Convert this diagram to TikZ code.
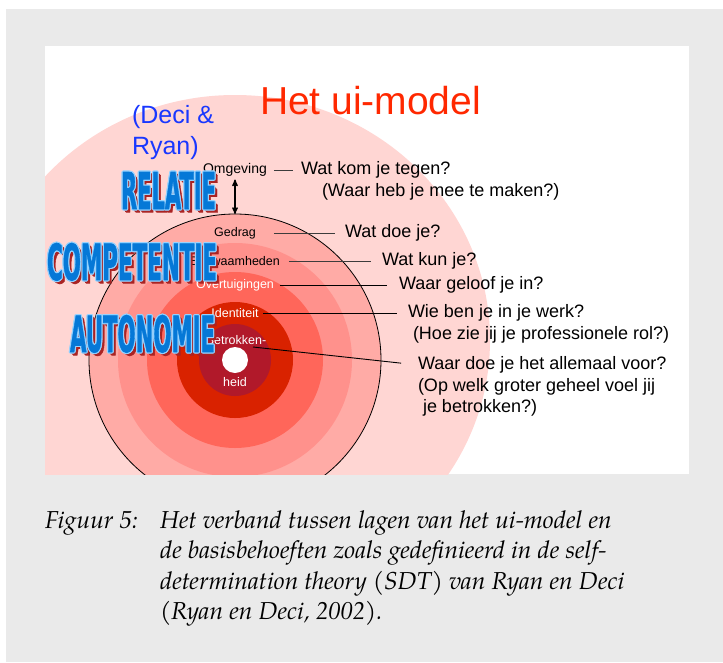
\documentclass[tikz,border=0pt]{standalone}
\usepackage{fontspec}
\usepackage{graphicx}
\usepackage{tikz}
\usetikzlibrary{arrows,positioning,shapes.geometric}
\newfontfamily\slidefont{Liberation Sans}
\newfontfamily\artfont{DejaVu Sans}[FakeBold=1.5]
\newfontfamily\capfont{texgyrepagella-italic.otf}
\definecolor{panelgray}{RGB}{234,234,234}
\definecolor{pinkout}{RGB}{255,214,211}
\definecolor{pinkring}{RGB}{255,171,166}
\definecolor{rosering}{RGB}{255,145,140}
\definecolor{salmonring}{RGB}{255,102,90}
\definecolor{redring}{RGB}{217,34,0}
\definecolor{crimsonring}{RGB}{177,25,42}
\definecolor{titlered}{RGB}{255,40,0}
\definecolor{authorblue}{RGB}{25,55,255}
\definecolor{artblue}{RGB}{5,120,215}
\definecolor{artedge}{RGB}{150,210,255}
\definecolor{artshade}{RGB}{170,35,35}
\definecolor{leadgray}{RGB}{60,60,60}
\newcommand{\artword}[5]{%
  \foreach \s in {0.8,1.6,2.4,3.2}
    \node[art shade] at ([shift={(\s,\s)}]#2,#3) {\resizebox{#4}{37pt}{#5}};
  \foreach \dx/\dy in {-1.2/0,1.2/0,0/-1.2,0/1.2,-0.85/-0.85,0.85/0.85,-0.85/0.85,0.85/-0.85}
    \node[art edge] at ([shift={(\dx,\dy)}]#2,#3) {\resizebox{#4}{37pt}{#5}};
  \node[art fill] (#1) at (#2,#3) {\resizebox{#4}{37pt}{#5}};
}

\begin{document}
\begin{tikzpicture}[y=-1pt, x=1pt, inner sep=0pt, outer sep=0pt,
  >=stealth',
  ring/.style={circle, minimum size=#1},
  lab/.style={font=\slidefont\fontsize{12.5}{15}\selectfont},
  quest/.style={anchor=west, font=\slidefont\fontsize{18}{21.6}\selectfont},
  lead/.style={draw=leadgray, line width=0.9pt},
  art shade/.style={anchor=north west, text=artshade, font=\artfont\bfseries},
  art edge/.style={anchor=north west, text=artedge, font=\artfont\bfseries},
  art fill/.style={anchor=north west, text=artblue, font=\artfont\bfseries},
  caption/.style={anchor=base west, font=\capfont\fontsize{24.5}{30.5}\selectfont}]
\useasboundingbox (0,0) rectangle (723,662);
\fill[white] (0,0) rectangle (723,662);
\fill[panelgray] (6,9) rectangle (723,662);
\fill[white] (45,46) rectangle (689,474);

\begin{scope}
\clip (45,46) rectangle (689,474);
\node[ellipse, minimum width=510pt, minimum height=490pt, fill=pinkout] (outer) at (235,340) {};
\node[ring=292pt, fill=pinkring, draw=black, line width=0.8pt] (ring5) at (235,360) {};
\node[ring=234pt, fill=rosering] (ring4) at (235,360) {};
\node[ring=176pt, fill=salmonring] (ring3) at (235,360) {};
\node[ring=116pt, fill=redring] (ring2) at (235,360) {};
\node[ring=72pt, fill=crimsonring] (ring1) at (235,360) {};
\node[ring=26pt, fill=white] (core) at (235,360) {};
\end{scope}

\node[anchor=base west, text=titlered, font=\slidefont\fontsize{39}{45}\selectfont] (title) at (260,114) {Het ui-model};
\node[anchor=base west, text=authorblue, font=\slidefont\fontsize{25}{30}\selectfont] (deci) at (132,123) {(Deci \&};
\node[anchor=base west, text=authorblue, font=\slidefont\fontsize{25}{30}\selectfont] (ryan) at (132,154) {Ryan)};

\node[lab, font=\slidefont\fontsize{14}{17}\selectfont] (lomg) at (235,170) {Omgeving};
\node[lab] (lgedrag) at (235,233) {Gedrag};
\node[lab] (lbekw) at (235,261) {Bekwaamheden};
\node[lab, text=white] (lover) at (235,285) {Overtuigingen};
\node[lab, text=white] (lident) at (235,313) {Identiteit};
\node[lab, text=white] (lbetr) at (236,340) {Betrokken-};
\node[lab, text=white] (lheid) at (235,382) {heid};

\node[quest] (q1) at (301,170) {Wat kom je tegen?};
\node[quest] (q1b) at (322,192) {(Waar heb je mee te maken?)};
\node[quest] (q2) at (345,233) {Wat doe je?};
\node[quest] (q3) at (382,261) {Wat kun je?};
\node[quest] (q4) at (399,285) {Waar geloof je in?};
\node[quest] (q5) at (408,313) {Wie ben je in je werk?};
\node[quest] (q5b) at (413,335) {(Hoe zie jij je professionele rol?)};
\node[quest] (q6) at (418,365) {Waar doe je het allemaal voor?};
\node[quest] (q6b) at (418,387) {(Op welk groter geheel voel jij};
\node[quest] (q6c) at (423,408) {je betrokken?)};
\coordinate (bstart) at (253,347);

\draw[lead, shorten <=7pt, shorten >=8pt] (lomg.east) -- (lomg.east -| q1.west);
\draw[lead, shorten <=18pt, shorten >=10pt] (lgedrag.east) -- (lgedrag.east -| q2.west);
\draw[lead, shorten <=9pt, shorten >=11pt] (lbekw.east) -- (lbekw.east -| q3.west);
\draw[lead, draw=black, shorten <=6pt, shorten >=12pt] (lover.east) -- (lover.east -| q4.west);
\draw[lead, draw=black, shorten <=4.5pt, shorten >=11pt] (lident.east) -- (lident.east -| q5.west);
\draw[lead, draw=black, shorten >=17pt] (bstart) -- (q6.west);
\draw[<->, line width=1.3pt, shorten <=3pt] (lomg.south) -- (ring5.north);

\artword{relatie}{121}{172}{95pt}{RELATIE}
\artword{competentie}{47}{243}{170pt}{COMPETENTIE}
\artword{autonomie}{70}{315}{145pt}{AUTONOMIE}

\node[caption] (fig) at (45,528) {Figuur 5:};
\node[caption] (cap1) at (160,528) {Het verband tussen lagen van het ui-model en};
\node[caption] (cap2) at (160,558.5) {de basisbehoeften zoals gedefinieerd in de self-};
\node[caption] (cap3) at (160,589) {determination theory (SDT) van Ryan en Deci};
\node[caption] (cap4) at (160,619.5) {(Ryan en Deci, 2002).};
\end{tikzpicture}
\end{document}
